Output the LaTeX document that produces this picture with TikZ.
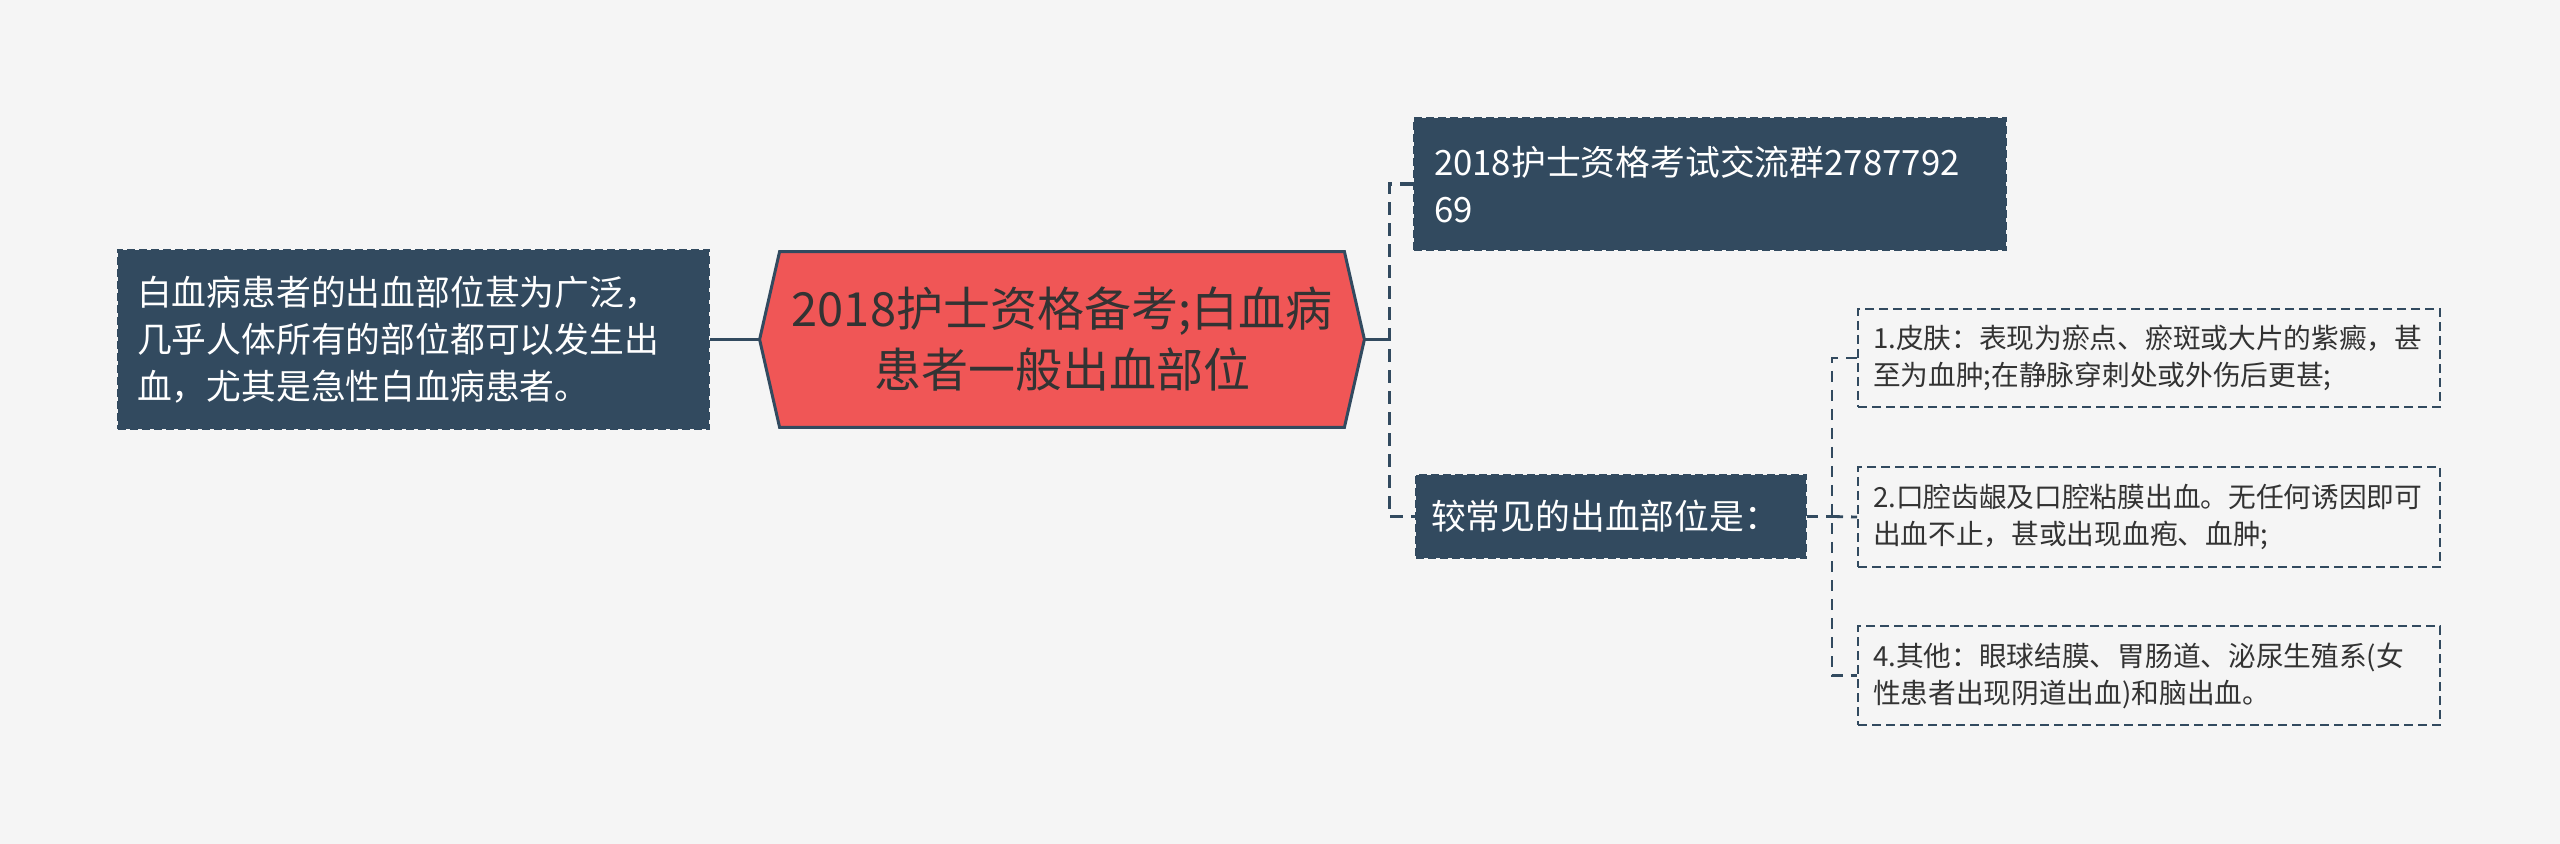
\documentclass[tikz,border=0pt]{standalone}
\usepackage{fontspec}
\setmainfont{Noto Sans CJK SC}
\definecolor{bgcol}{HTML}{F5F5F5}
\definecolor{boxblue}{HTML}{324A5F}
\definecolor{hexred}{HTML}{F05656}
\definecolor{textdark}{HTML}{333333}
\begin{document}
\begin{tikzpicture}[x=0.5pt,y=-0.5pt,
  darkbox/.style={fill=boxblue,draw=boxblue,line width=1pt,dash pattern=on 4pt off 2pt,
    text=white,align=left,inner ysep=0pt,font=\fontsize{17.4}{23.5}\selectfont},
  leafbox/.style={draw=boxblue,line width=1pt,dash pattern=on 4.5pt off 2.5pt,
    text=textdark,align=left,inner ysep=0pt,inner xsep=7.5pt,text width=276pt,
    minimum width=291pt,font=\fontsize{13.85}{18.5}\selectfont},
  solidconn/.style={draw=boxblue,line width=1.6pt},
  dashconn/.style={draw=boxblue,line width=1.6pt,dash pattern=on 6.5pt off 4pt},
  leafconn/.style={draw=boxblue,line width=1.4pt,dash pattern=on 5.5pt off 4pt}]
\fill[bgcol] (0,0) rectangle (2560,844);
\useasboundingbox (0,0) rectangle (2560,844);

% left box
\node[darkbox,minimum width=295.5pt,minimum height=89.5pt,text width=276.5pt,inner xsep=9.5pt]
  (L) at (413.5,339.5) {白血病患者的出血部位甚为广泛，\\几乎人体所有的部位都可以发生出\\血，尤其是急性白血病患者。};

% central hexagon
\node[minimum width=302pt,minimum height=87.5pt,inner sep=0pt] (C) at (1062,339.5) {};
\filldraw[fill=hexred,draw=boxblue,line width=1.5pt,line join=miter]
  (C.west) -- ([xshift=10pt]C.north west) -- ([xshift=-10pt]C.north east) -- (C.east)
  -- ([xshift=-10pt]C.south east) -- ([xshift=10pt]C.south west) -- cycle;
\node[text=textdark,align=center,font=\fontsize{23.5}{30.5}\selectfont]
  (Ct) at (C) {2018护士资格备考;白血病\\患者一般出血部位};

% right first-level boxes
\node[darkbox,minimum width=296pt,minimum height=66pt,text width=276pt,inner xsep=10pt]
  (N1) at (1710,184) {2018护士资格考试交流群2787792\\69};
\node[darkbox,minimum width=195pt,minimum height=41.5pt,text width=180pt,inner xsep=7.5pt]
  (N2) at (1611,516.5) {较常见的出血部位是：};

% leaves
\node[leafbox,minimum height=49pt] (P1) at (2149,358)
  {1.皮肤：表现为瘀点、瘀斑或大片的紫癜，甚\\至为血肿;在静脉穿刺处或外伤后更甚;};
\node[leafbox,minimum height=50pt] (P2) at (2149,517)
  {2.口腔齿龈及口腔粘膜出血。无任何诱因即可\\出血不止，甚或出现血疱、血肿;};
\node[leafbox,minimum height=49.5pt] (P3) at (2149,675.5)
  {4.其他：眼球结膜、胃肠道、泌尿生殖系(女\\性患者出现阴道出血)和脑出血。};

% connectors
\draw[solidconn] (L.east) -- (C.west);
\coordinate (j1) at ([xshift=12.5pt]C.east);
\draw[solidconn] (C.east) -- (j1);
\draw[dashconn] (N1.west) -| (j1) |- (N2.west);
\coordinate (j2) at ([xshift=12.5pt]N2.east);
\draw[leafconn] (N2.east) -- (j2);
\draw[leafconn] (P1.west) -| (j2) |- (P3.west);
\draw[leafconn] (j2) -- (P2.west);
\end{tikzpicture}
\end{document}
